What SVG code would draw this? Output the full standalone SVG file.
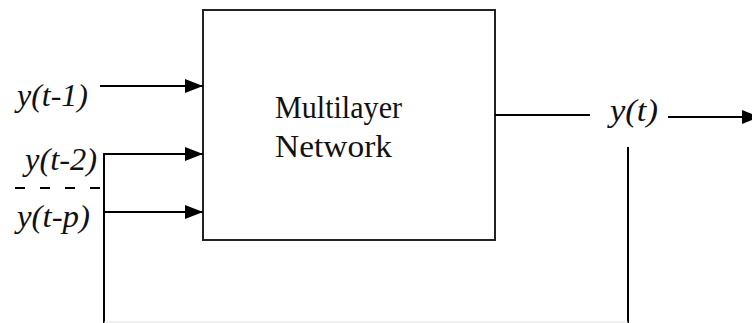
<svg xmlns="http://www.w3.org/2000/svg" width="752" height="323" viewBox="0 0 752 323">
<style>
.ln{stroke:#000;stroke-width:2;fill:none}
.lbl{font-family:"Liberation Serif","Times New Roman",serif;font-style:italic;font-size:32px;fill:#111}
.txt{font-family:"Liberation Serif","Times New Roman",serif;font-size:31px;fill:#111}
</style>
<defs>
<marker id="ah" markerUnits="userSpaceOnUse" markerWidth="18" markerHeight="14" refX="18" refY="7" orient="auto">
<path d="M0,0 L18,7 L0,14 Z" fill="#000"/>
</marker>
</defs>
<rect width="752" height="323" fill="#fff"/>
<g id="network">
<rect x="203" y="10" width="292" height="230" fill="#fff" stroke="#222" stroke-width="2"/>
<text class="txt" x="275" y="118" textLength="127" lengthAdjust="spacingAndGlyphs">Multilayer</text>
<text class="txt" x="275" y="157" textLength="117" lengthAdjust="spacingAndGlyphs">Network</text>
</g>
<g id="in1"><text class="lbl" x="17" y="106" textLength="71" lengthAdjust="spacingAndGlyphs">y(t-1)</text></g>
<g id="in2"><text class="lbl" x="25" y="170" textLength="72" lengthAdjust="spacingAndGlyphs">y(t-2)</text></g>
<g id="inp"><text class="lbl" x="17" y="227" textLength="73" lengthAdjust="spacingAndGlyphs">y(t-p)</text></g>
<g id="out"><text class="lbl" x="610" y="121" textLength="48" lengthAdjust="spacingAndGlyphs">y(t)</text></g>
<g id="connectors">
<line class="ln" x1="100" y1="86" x2="203" y2="86" marker-end="url(#ah)"/>
<polyline class="ln" points="104,323 104,154 203,154" marker-end="url(#ah)"/>
<line class="ln" x1="104" y1="212" x2="203" y2="212" marker-end="url(#ah)"/>
<line class="ln" x1="15" y1="188" x2="104" y2="188" stroke-dasharray="10 15"/>
<line class="ln" x1="495" y1="115" x2="590" y2="115"/>
<line class="ln" x1="668" y1="117" x2="760" y2="117" marker-end="url(#ah)"/>
<line class="ln" x1="628" y1="147" x2="628" y2="323"/>
<line x1="104" y1="322" x2="628" y2="322" stroke="#e4e4e4" stroke-width="1"/>
</g>
</svg>
